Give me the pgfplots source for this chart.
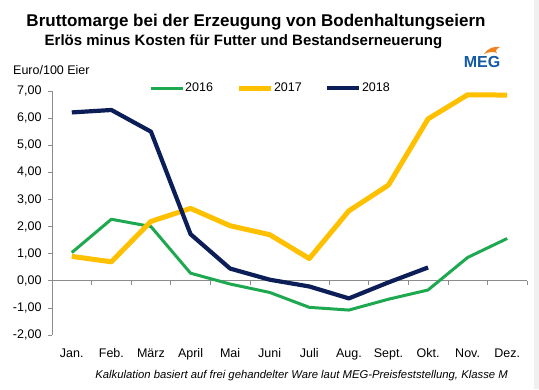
\documentclass[border=0pt]{standalone}
\usepackage{fontspec}
\setmainfont{Liberation Sans}
\usepackage{pgfplots}
\pgfplotsset{compat=1.18}
\definecolor{cgreen}{RGB}{30,168,80}
\definecolor{cyellow}{RGB}{255,192,0}
\definecolor{cnavy}{RGB}{12,30,88}
\definecolor{caxis}{RGB}{140,140,140}
\definecolor{megblue}{RGB}{20,90,165}
\definecolor{megorange}{RGB}{240,130,30}
\begin{document}
\begin{tikzpicture}
\useasboundingbox (0pt,0pt) rectangle (539pt,389pt);
\fill[white] (0pt,0pt) rectangle (539pt,389pt);
\fill[gray!12] (533.5pt,0pt) rectangle (539pt,389pt);
\node[font=\bfseries\fontsize{17}{20}\selectfont] at (256pt,367pt) {Bruttomarge bei der Erzeugung von Bodenhaltungseiern};
\node[font=\bfseries\fontsize{15}{17}\selectfont] at (243.5pt,347pt) {Erlös minus Kosten für Futter und Bestandserneuerung};
\node[anchor=west, inner sep=0pt, font=\fontsize{12.5}{15}\selectfont] at (13pt,319pt) {Euro/100 Eier};
\node[font=\bfseries\fontsize{16}{18}\selectfont, text=megblue, inner sep=0pt] at (482pt,327pt) {MEG};
\fill[megorange] (484pt,335pt) .. controls (488pt,341pt) and (494pt,343pt) .. (500pt,342pt) .. controls (496pt,340pt) and (495pt,338pt) .. (497pt,336pt) .. controls (493pt,338pt) and (489pt,337pt) .. (484pt,335pt) -- cycle;
\node[anchor=east, inner sep=0pt, font=\itshape\fontsize{11.3}{13}\selectfont] at (508pt,13pt) {Kalkulation basiert auf frei gehandelter Ware laut MEG-Preisfeststellung, Klasse M};
\begin{axis}[
  at={(52pt,54pt)}, anchor=south west,
  width=475pt, height=244pt, scale only axis,
  xmin=-0.5, xmax=11.5, ymin=-2, ymax=7,
  axis lines*=left,
  x axis line style={draw=none},
  y axis line style={caxis, line width=0.6pt},
  xtick={0,...,11},
  xticklabels={Jan.,Feb.,März,April,Mai,Juni,Juli,Aug.,Sept.,Okt.,Nov.,Dez.},
  xtick style={draw=none},
  ytick={-2,-1,...,7},
  ytick style={caxis, line width=0.6pt},
  tick align=outside,
  major tick length=4pt,
  clip=false,
  ticklabel style={font=\fontsize{12.5}{15}\selectfont},
  yticklabel style={xshift=-3pt, /pgf/number format/.cd, fixed, fixed zerofill, precision=2, use comma, assume math mode=true},
  xticklabel style={yshift=-6pt},
  legend style={draw=none, fill=none, at={(0.459,1.012)}, anchor=center,
    legend columns=3, font=\fontsize{12.5}{15}\selectfont,
    /tikz/every even column/.append style={column sep=22pt},
    nodes={inner sep=1pt}},
  legend image code/.code={\draw[#1] (0pt,0pt) -- (32pt,0pt);},
  line join=round,
]
\draw[caxis, line width=0.6pt] (axis cs:-0.5,0) -- (axis cs:11.5,0);
\pgfplotsinvokeforeach{0.5,1.5,2.5,3.5,4.5,5.5,6.5,7.5,8.5,9.5,10.5,11.5}{
  \draw[caxis, line width=0.6pt] (axis cs:#1,0) -- ++(0pt,-4pt);
}
\addplot[cgreen, line width=3pt] coordinates {
(0,1.04) (1,2.27) (2,2.00) (3,0.28) (4,-0.12) (5,-0.43) (6,-0.98) (7,-1.08) (8,-0.68) (9,-0.34) (10,0.86) (11,1.56)};
\addlegendentry{2016}
\addplot[cyellow, line width=5pt] coordinates {
(0,0.90) (1,0.70) (2,2.19) (3,2.67) (4,2.03) (5,1.70) (6,0.82) (7,2.58) (8,3.53) (9,5.97) (10,6.86) (11,6.85)};
\addlegendentry{2017}
\addplot[cnavy, line width=4.2pt] coordinates {
(0,6.21) (1,6.30) (2,5.50) (3,1.72) (4,0.45) (5,0.04) (6,-0.21) (7,-0.65) (8,-0.06) (9,0.49)};
\addlegendentry{2018}
\end{axis}
\end{tikzpicture}
\end{document}
